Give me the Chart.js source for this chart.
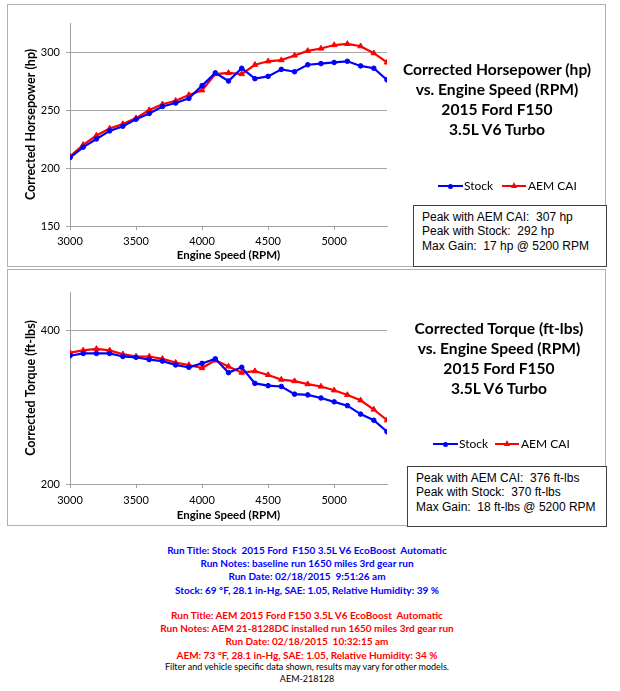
<!DOCTYPE html>
<html><head><meta charset="utf-8">
<script src="https://cdn.jsdelivr.net/npm/chart.js@4.4.1/dist/chart.umd.min.js"></script>
<style>
body{margin:0;width:620px;height:691px;background:#fff;position:relative;overflow:hidden;font-family:Lato,"Open Sans",sans-serif;}
.panel{position:absolute;left:7px;width:599px;border:1.5px solid #b0b0b0;box-sizing:border-box;}
canvas{position:absolute;left:7px;}
.title{position:absolute;font-weight:bold;font-size:15.6px;text-align:center;line-height:20px;color:#000;width:260px;}
.box{position:absolute;border:1.5px solid #404040;box-sizing:border-box;background:#fff;font-family:"Liberation Sans",Arial,sans-serif;font-size:12px;line-height:14.6px;color:#000;white-space:pre;}
.leg{position:absolute;font-size:12px;color:#000;height:14px;line-height:14px;}
.leg span{position:absolute;white-space:nowrap;}
.ln{position:absolute;height:2px;top:6px;}
.dot{position:absolute;width:5px;height:5px;border-radius:50%;background:#0000ff;top:4.5px;}
.tri{position:absolute;width:0;height:0;border-left:3.5px solid transparent;border-right:3.5px solid transparent;border-bottom:6px solid #ff0000;top:3px;}
.notes{position:absolute;left:0;width:614px;text-align:center;font-weight:bold;font-size:10px;line-height:13.2px;}
</style>
</head><body>
<div class="panel" style="top:4px;height:263px;"></div>
<div class="panel" style="top:269px;height:257px;"></div>
<canvas id="hp" width="599" height="262" style="top:4px;"></canvas>
<canvas id="tq" width="599" height="256" style="top:270px;"></canvas>

<div class="title" style="left:367px;top:59px;">Corrected Horsepower (hp)<br>vs. Engine Speed (RPM)<br>2015 Ford F150<br>3.5L V6 Turbo</div>
<div class="title" style="left:369px;top:318px;">Corrected Torque (ft-lbs)<br>vs. Engine Speed (RPM)<br>2015 Ford F150<br>3.5L V6 Turbo</div>

<div class="leg" style="left:0;top:179px;width:620px;">
  <div class="ln" style="left:438px;width:25px;background:#0000ff;"></div><div class="dot" style="left:448px;"></div>
  <span style="left:464px;">Stock</span>
  <div class="ln" style="left:502px;width:24px;background:#ff0000;"></div><div class="tri" style="left:510.5px;"></div>
  <span style="left:528px;">AEM CAI</span>
</div>
<div class="leg" style="left:0;top:437px;width:620px;">
  <div class="ln" style="left:433px;width:25px;background:#0000ff;"></div><div class="dot" style="left:443px;"></div>
  <span style="left:459px;">Stock</span>
  <div class="ln" style="left:495px;width:24px;background:#ff0000;"></div><div class="tri" style="left:503.5px;"></div>
  <span style="left:521px;">AEM CAI</span>
</div>

<div class="box" style="left:413px;top:205px;width:194px;height:62px;padding:3.5px 0 0 8px;">Peak with AEM CAI:  307 hp
Peak with Stock:  292 hp
Max Gain:  17 hp @ 5200 RPM</div>
<div class="box" style="left:407px;top:466px;width:200px;height:61px;padding:3.5px 0 0 8px;">Peak with AEM CAI:  376 ft-lbs
Peak with Stock:  370 ft-lbs
Max Gain:  18 ft-lbs @ 5200 RPM</div>

<div class="notes" style="top:544px;color:#0000ff;">Run Title: Stock&nbsp; 2015 Ford&nbsp; F150 3.5L V6 EcoBoost&nbsp; Automatic<br>Run Notes: baseline run 1650 miles 3rd gear run<br>Run Date: 02/18/2015&nbsp; 9:51:26 am<br>Stock: 69 °F, 28.1 in-Hg, SAE: 1.05, Relative Humidity: 39 %</div>
<div class="notes" style="top:609px;color:#ff0000;">Run Title: AEM 2015 Ford F150 3.5L V6 EcoBoost&nbsp; Automatic<br>Run Notes: AEM 21-8128DC installed run 1650 miles 3rd gear run<br>Run Date: 02/18/2015&nbsp; 10:32:15 am<br>AEM: 73 °F, 28.1 in-Hg, SAE: 1.05, Relative Humidity: 34 %</div>
<div class="notes" style="top:661px;color:#000;font-weight:normal;font-size:9px;line-height:12px;">Filter and vehicle specific data shown, results may vary for other models.<br>AEM-218128</div>

<script>
const rpm = [3000,3100,3200,3300,3400,3500,3600,3700,3800,3900,4000,4100,4200,4300,4400,4500,4600,4700,4800,4900,5000,5100,5200,5300,5400];
const hpStock = [209,218,225,232,236,242,247,253,256,260,271,282,275,286,277,279,285,283,289,290,291,292,288,286,276];
const hpAem   = [210,220,228,234,238,243,250,255,258,263,267,281,282,281,289,292,293,297,301,303,306,307,305,299,291];
const tqStock = [367,370,370,370,366,365,362,360,355,352,357,363,345,352,331,328,327,317,316,312,307,302,291,283,268];
const tqAem   = [371,374,376,374,369,366,366,363,358,355,351,361,353,345,347,342,336,334,330,327,322,316,309,297,283];
const rpmTicks = [3000,3500,4000,4500,5000];
const hpTicks = [150,200,250,300];
const tqTicks = [200,400];
const seriesNames = ['Stock','AEM CAI'];

Chart.defaults.font.family = 'Lato, "Open Sans", sans-serif';
Chart.defaults.color = '#000';

function pairs(ys){ return rpm.map((x,i)=>({x:x,y:ys[i]})); }

function makeChart(id, stock, aem, yTicks, ymin, ymax, yTitle, padTop, xH, titlePadB, tickPadX){
  new Chart(document.getElementById(id), {
    type:'line',
    data:{datasets:[
      {label:seriesNames[0], data:pairs(stock), borderColor:'#0000ff', backgroundColor:'#0000ff', borderWidth:2.2,
       pointStyle:'circle', pointRadius:2.3, pointBorderWidth:1, tension:0},
      {label:seriesNames[1], data:pairs(aem), borderColor:'#ff0000', backgroundColor:'#ff0000', borderWidth:2.2,
       pointStyle:'triangle', pointRadius:3.2, pointBorderWidth:1, tension:0}
    ]},
    options:{
      responsive:false, animation:false, devicePixelRatio:1,
      layout:{padding:{left:0, top:padTop, right:219, bottom:0}},
      plugins:{legend:{display:false}, tooltip:{enabled:false}},
      scales:{
        x:{type:'linear', min:3000, max:5400,
           afterBuildTicks:s=>{s.ticks = rpmTicks.map(v=>({value:v}));},
           afterFit:s=>{s.height = xH;},
           grid:{display:true, drawOnChartArea:false, drawTicks:true, tickLength:4, color:'#a0a0a0'},
           border:{color:'#a0a0a0', width:1},
           ticks:{font:{size:11}, padding:tickPadX, maxRotation:0, callback:v=>String(v)},
           title:{display:true, text:'Engine Speed (RPM)', font:{size:11.5, weight:'bold'}, padding:{top:0,bottom:titlePadB}}
        },
        y:{type:'linear', min:ymin, max:ymax,
           afterBuildTicks:s=>{s.ticks = yTicks.map(v=>({value:v}));},
           afterFit:s=>{s.width = 63;},
           grid:{color:'#a6a6a6', lineWidth:1, tickLength:4},
           border:{color:'#a0a0a0', width:1},
           ticks:{font:{size:11}, padding:6, callback:v=>String(v)},
           title:{display:true, text:yTitle, font:{size:12.5, weight:'bold'}, padding:{top:16,bottom:0}}
        }
      }
    }
  });
}
makeChart('hp', hpStock, hpAem, hpTicks, 150, 325, 'Corrected Horsepower (hp)', 19, 40, 4, 5);
makeChart('tq', tqStock, tqAem, tqTicks, 200, 450, 'Corrected Torque (ft-lbs)', 22, 42, 4, 6);
</script>
</body></html>
